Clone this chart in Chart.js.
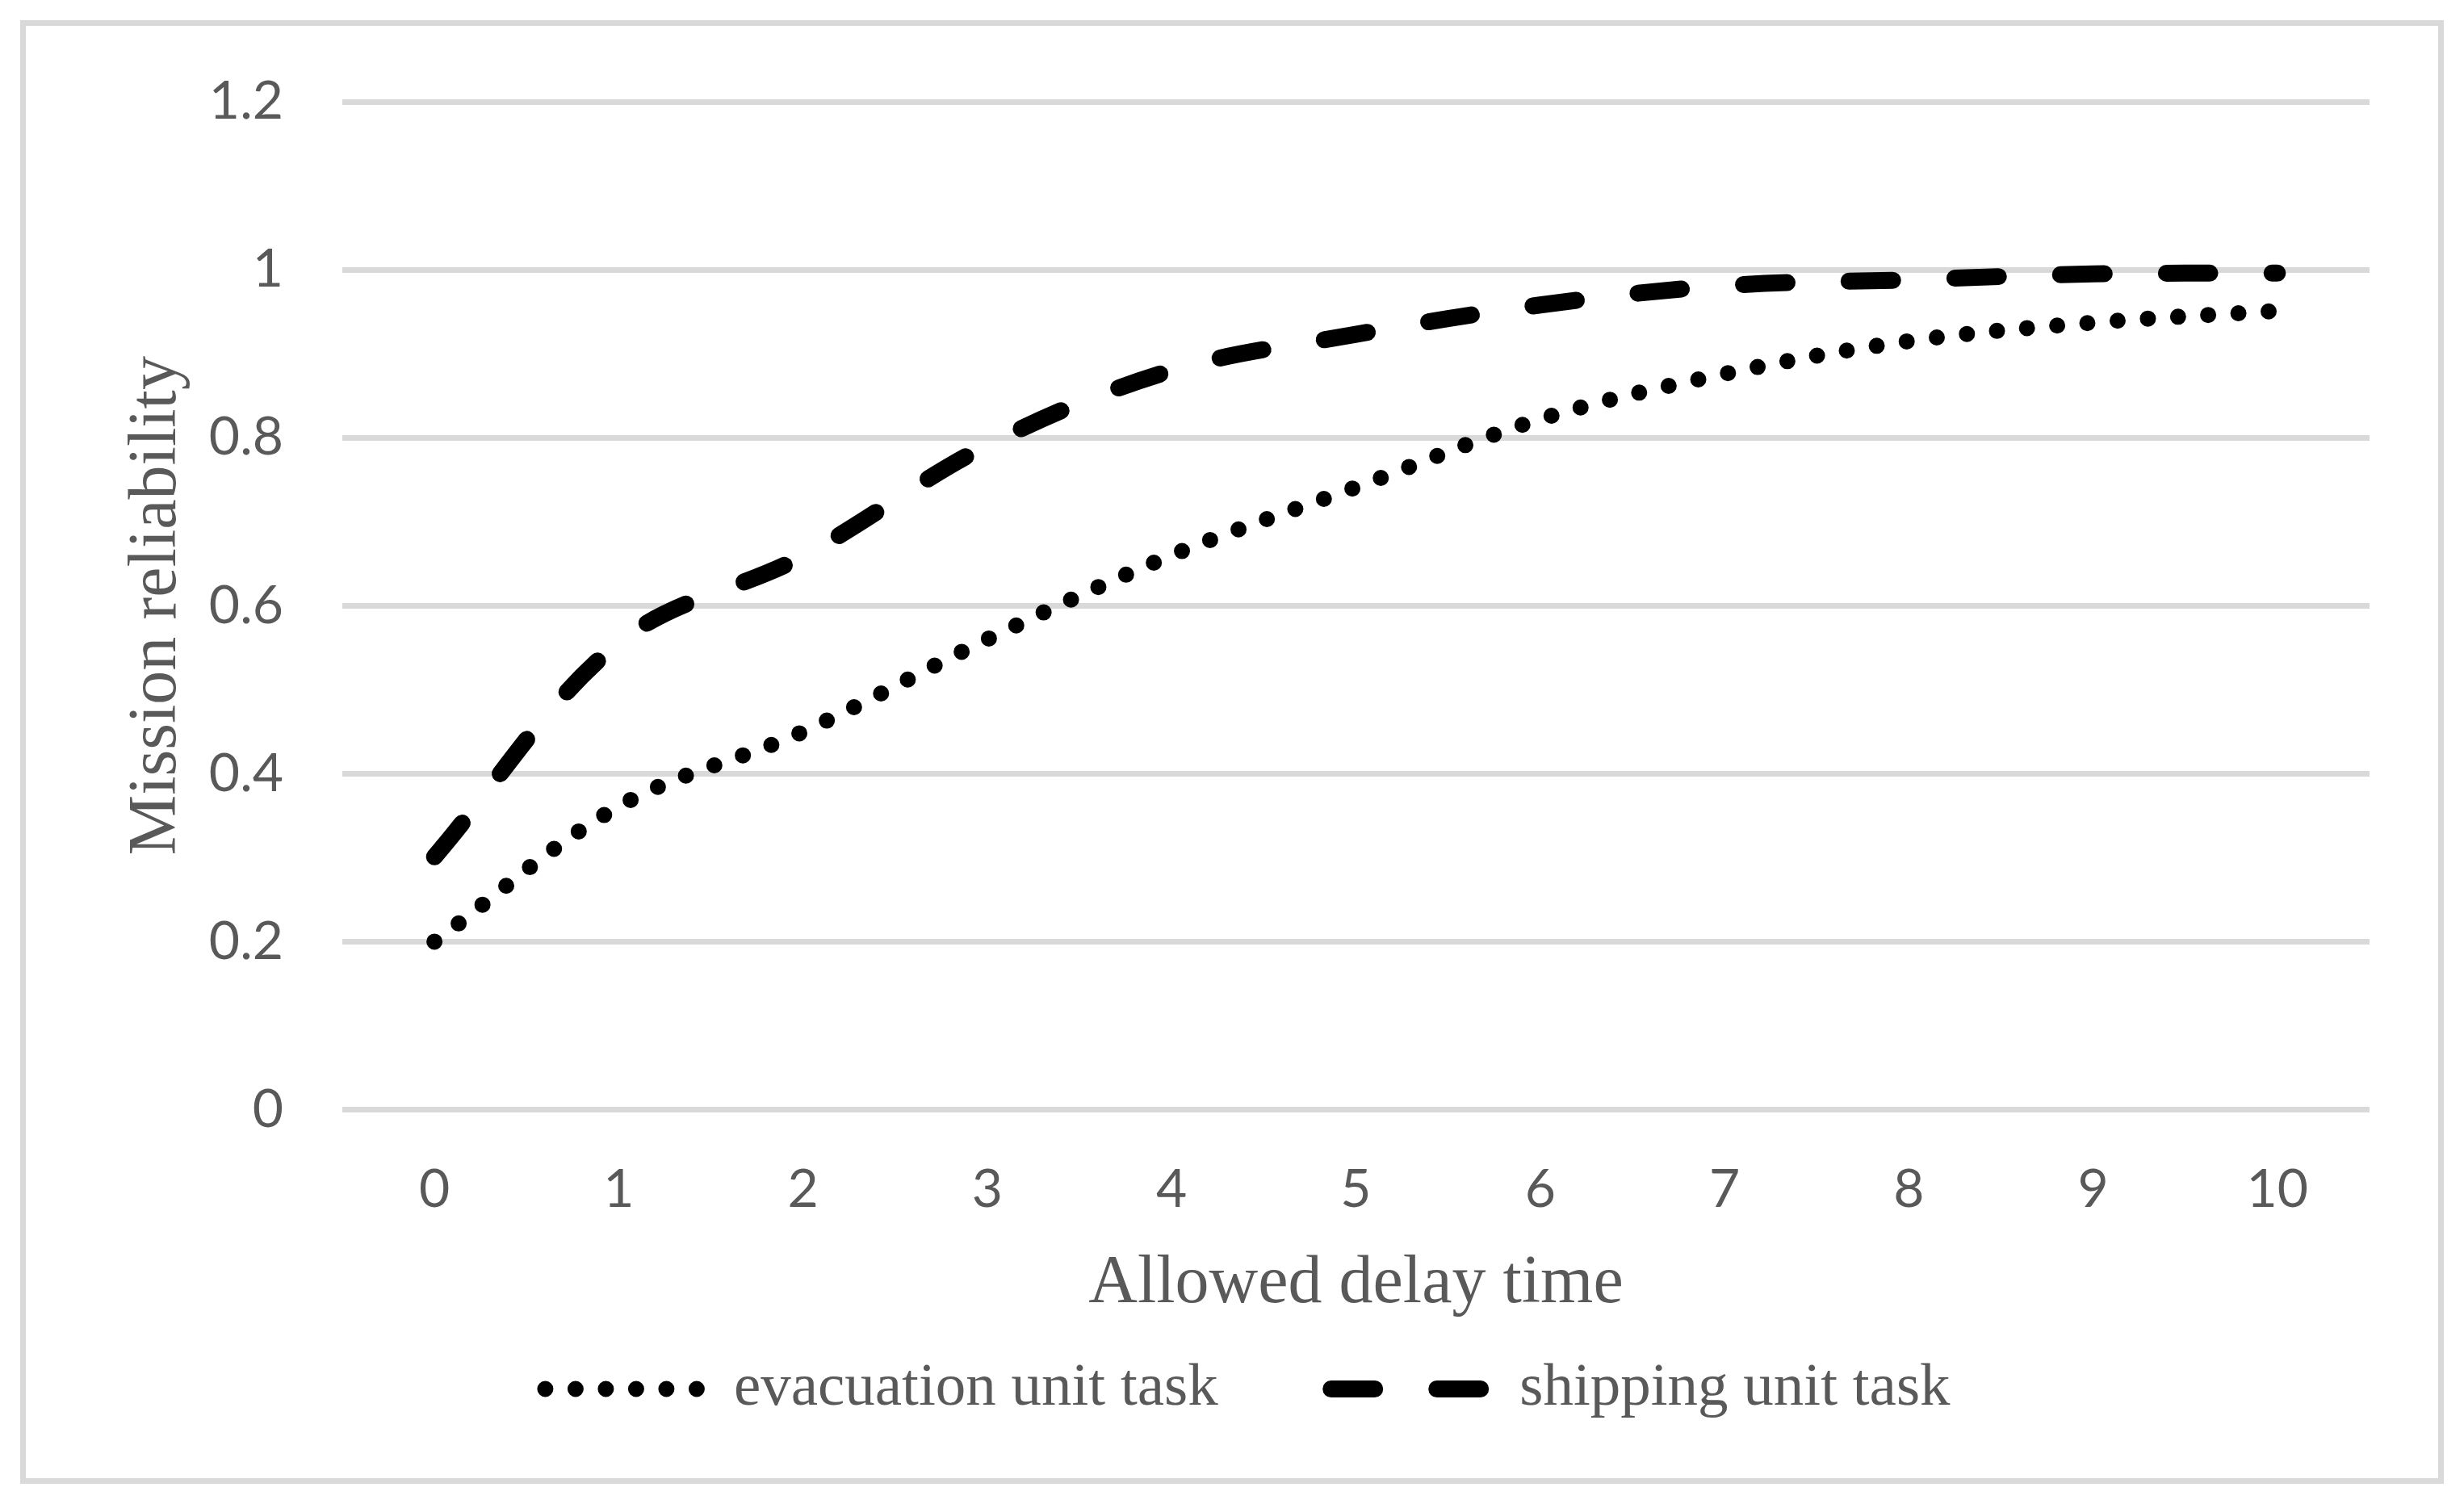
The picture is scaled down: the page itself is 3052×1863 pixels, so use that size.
<!DOCTYPE html>
<html>
<head>
<meta charset="utf-8">
<title>Mission reliability</title>
<script src="https://cdn.jsdelivr.net/npm/chart.js@4.4.1/dist/chart.umd.min.js"></script>
<style>
  html, body { margin: 0; padding: 0; background: #ffffff; }
  canvas { display: block; }
</style>
</head>
<body>
<canvas id="myChart" width="3052" height="1863"></canvas>
<script>
// values
var delayTimes = ['0', '1', '2', '3', '4', '5', '6', '7', '8', '9', '10'];
var evacuation = [0.200, 0.361, 0.450, 0.560, 0.660, 0.741, 0.822, 0.876, 0.915, 0.937, 0.951];
var shipping = [0.301, 0.556, 0.659, 0.791, 0.880, 0.923, 0.958, 0.981, 0.988, 0.995, 0.996];
var yTickLabels = ['0', '0.2', '0.4', '0.6', '0.8', '1', '1.2'];

var grey = '#595959';
var gridGrey = '#d9d9d9';

// light frame round the whole picture
var framePlugin = {
	id: 'frame',
	beforeDraw: function(chart) {
		var c = chart.ctx;
		c.save();
		c.fillStyle = '#ffffff';
		c.fillRect(0, 0, chart.width, chart.height);
		c.strokeStyle = gridGrey;
		c.lineWidth = 7;
		c.strokeRect(28.5, 28.5, chart.width - 57, chart.height - 57);
		c.restore();
	}
};

var ctx = document.getElementById('myChart').getContext('2d');
var myChart = new Chart(ctx, {
	type: 'line',
	data: {
		labels: delayTimes,
		datasets: [{
			label: 'evacuation unit task',
			data: evacuation,
			borderColor: '#000000',
			backgroundColor: '#000000',
			borderWidth: 20,
			borderDash: [0, 37.5],
			borderCapStyle: 'round',
			pointRadius: 0,
			tension: 0.35,
			fill: false
		}, {
			label: 'shipping unit task',
			data: shipping,
			borderColor: '#000000',
			backgroundColor: '#000000',
			borderWidth: 21,
			borderDash: [54, 77],
			borderCapStyle: 'round',
			pointRadius: 0,
			tension: 0.35,
			fill: false
		}]
	},
	options: {
		responsive: false,
		animation: false,
		devicePixelRatio: 1,
		layout: {
			padding: { top: 126, left: 156, right: 117, bottom: 95 }
		},
		plugins: {
			tooltip: { enabled: false },
			legend: {
				position: 'bottom',
				labels: {
					usePointStyle: true,
					pointStyleWidth: 196,
					padding: 140,
					color: grey,
					font: { family: '"Liberation Serif", "Times New Roman", serif', size: 75 },
					generateLabels: function(chart) {
						return chart.data.datasets.map(function(ds, i) {
							return {
								text: ds.label,
								fillStyle: 'rgba(0,0,0,0)',
								strokeStyle: ds.borderColor,
								lineWidth: ds.borderWidth,
								lineDash: ds.borderDash,
								lineCap: 'round',
								pointStyle: 'line',
								fontColor: grey,
								datasetIndex: i
							};
						});
					}
				}
			}
		},
		scales: {
			x: {
				offset: true,
				afterFit: function(scale) { scale.height = 168.5; },
				grid: { display: false, drawTicks: false },
				border: { display: false },
				ticks: {
					color: grey,
					padding: 60,
					maxRotation: 0,
					font: { family: 'Lato, "Open Sans", sans-serif', size: 66 }
				},
				title: {
					display: true,
					text: 'Allowed delay time',
					color: grey,
					padding: { top: 0, bottom: -98 },
					font: { family: '"Liberation Serif", "Times New Roman", serif', size: 84 }
				}
			},
			y: {
				min: 0,
				max: 1.2,
				afterFit: function(scale) { scale.width = 268; },
				grid: { color: gridGrey, lineWidth: 7, drawTicks: false },
				border: { display: false },
				ticks: {
					stepSize: 0.2,
					color: grey,
					padding: 73,
					font: { family: 'Lato, "Open Sans", sans-serif', size: 66 },
					callback: function(value, index) { return yTickLabels[index]; }
				},
				title: {
					display: true,
					text: 'Mission reliability',
					color: grey,
					padding: { top: -11, bottom: 0 },
					font: { family: '"Liberation Serif", "Times New Roman", serif', size: 84 }
				}
			}
		}
	},
	plugins: [framePlugin]
});
</script>
</body>
</html>
